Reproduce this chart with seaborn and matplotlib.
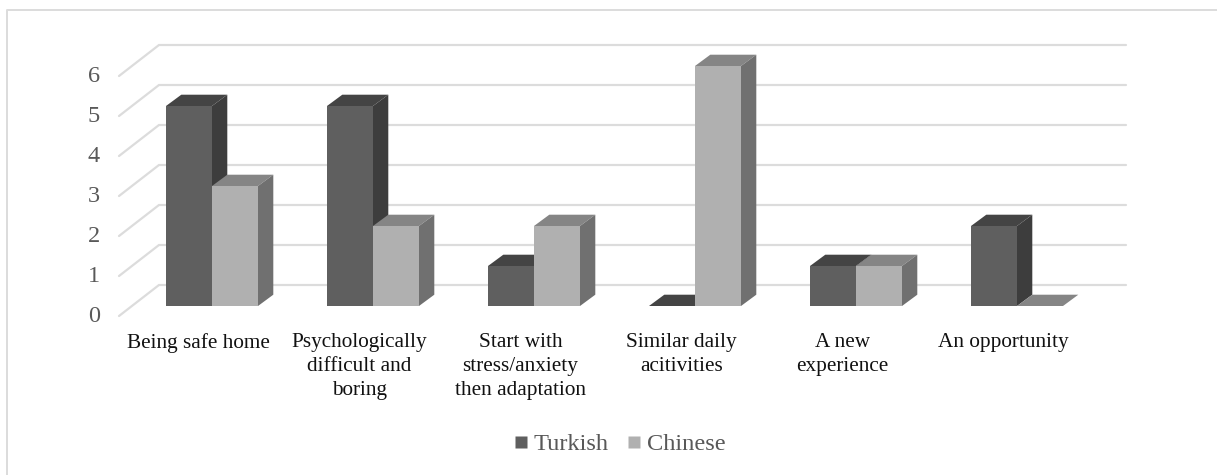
import matplotlib
matplotlib.use("Agg")
import matplotlib.pyplot as plt
from matplotlib.lines import Line2D
from matplotlib.patches import Polygon
from matplotlib.transforms import ScaledTranslation
import pandas as pd
import seaborn as sns

categories = ["Being safe home", "Psychologically\ndifficult and\nboring",
              "Start with\nstress/anxiety\nthen adaptation", "Similar daily\nacitivities",
              "A new\nexperience", "An opportunity"]
turkish = [5, 5, 1, 0, 1, 2]
chinese = [3, 2, 2, 6, 1, 0]
y_ticks = [0, 1, 2, 3, 4, 5, 6]

W, H = 1217, 475
DPI = 100
SERIF = ["Liberation Serif", "DejaVu Serif"]
sns.set_theme(style="white")
plt.rcParams["font.family"] = SERIF

df = pd.DataFrame({
    "category": categories * 2,
    "series": ["Turkish"] * 6 + ["Chinese"] * 6,
    "value": turkish + chinese,
})

fig = plt.figure(figsize=(W / DPI, H / DPI), dpi=DPI, facecolor="white")
L, R, T, B = 131.5, 1097.5, 66, 306
ax = fig.add_axes([L / W, 1 - B / H, (R - L) / W, (B - T) / H])
ax.patch.set_alpha(0)

front = {"Turkish": "#5f5f5f", "Chinese": "#b0b0b0"}
top_c = {"Turkish": "#444444", "Chinese": "#858585"}
side_c = {"Turkish": "#3d3d3d", "Chinese": "#707070"}

sns.barplot(data=df, x="category", y="value", hue="series", order=categories,
            hue_order=["Turkish", "Chinese"], palette=front, width=92 / 161,
            gap=0, saturation=1, ax=ax, zorder=3, linewidth=0, legend=False)
ax.set_xlim(-0.5, 5.5)
ax.set_ylim(0, 6)
ax.set(xlabel="", ylabel="")
for s in ax.spines.values():
    s.set_visible(False)

ux = (R - L) / 6      # px per category
uy = (B - T) / 6      # px per value unit
bar_dx, bar_dy = 15.3 / ux, 11.3 / uy
wall_dx, wall_dy = 40.0 / ux, 31.0 / uy   # side wall of the plot box
floor_front_y = -10.0 / uy                # front floor edge below baseline
x_left = (119 - L) / ux - 0.5
x_right = (1126 - L) / ux - 0.5
grid = "#dcdcdc"

for v in y_ticks:
    yf = v + floor_front_y
    yb = yf + wall_dy
    ax.add_line(Line2D([x_left, x_left + wall_dx, x_right], [yf, yb, yb], color=grid,
                       lw=1.6, zorder=1, clip_on=False, solid_joinstyle="miter"))

# depth faces, derived from each drawn bar
for name, bars in zip(["Turkish", "Chinese"], ax.containers):
    for rect in bars:
        x0, w, h = rect.get_x(), rect.get_width(), rect.get_height()
        x1 = x0 + w
        z = 4 if name == "Chinese" else 2.5
        rect.set_zorder(z + 0.1)
        ax.add_patch(Polygon([(x0, h), (x1, h), (x1 + bar_dx, h + bar_dy), (x0 + bar_dx, h + bar_dy)],
                             closed=True, fc=top_c[name], ec="none", zorder=z, clip_on=False))
        ax.add_patch(Polygon([(x1, 0), (x1 + bar_dx, bar_dy), (x1 + bar_dx, h + bar_dy), (x1, h)],
                             closed=True, fc=side_c[name], ec="none", zorder=z, clip_on=False))
        rect.set_clip_on(False)

# y tick labels
ax.set_yticks(y_ticks)
ax.tick_params(axis="y", length=0, labelsize=17.5, labelcolor="#595959",
               pad=(131.5 - 100) * 72 / DPI)
shift_y = ScaledTranslation(0, -8 / DPI, fig.dpi_scale_trans)
for lab in ax.get_yticklabels():
    lab.set_transform(lab.get_transform() + shift_y)

# x tick labels
ax.set_xticks(range(len(categories)))
ax.set_xticklabels(categories)
ax.tick_params(axis="x", length=0, pad=(333 - 306) * 72 / DPI, labelsize=15.3, labelcolor="#111111")
shift_x = ScaledTranslation(-13.5 / DPI, 0, fig.dpi_scale_trans)
for lab in ax.get_xticklabels():
    lab.set_multialignment("center")
    lab.set_linespacing(1.36)
    lab.set_transform(lab.get_transform() + shift_x)

# legend
handles = [Line2D([], [], ls="", marker="s", ms=8.6, mfc=front[k], mec="none") for k in front]
fig.legend(handles, list(front), loc="center", bbox_to_anchor=(617 / W, 1 - 444 / H), ncol=2, frameon=False,
           prop={"family": SERIF, "size": 17.6}, labelcolor="#595959", handletextpad=0.0,
           columnspacing=0.57, handlelength=1.0, borderpad=0)

# chart frame
fig.add_artist(Line2D([7 / W, 7 / W, 1], [0, 1 - 10 / H, 1 - 10 / H], color=grid, lw=1.4))

fig.savefig("out.png", dpi=DPI)
